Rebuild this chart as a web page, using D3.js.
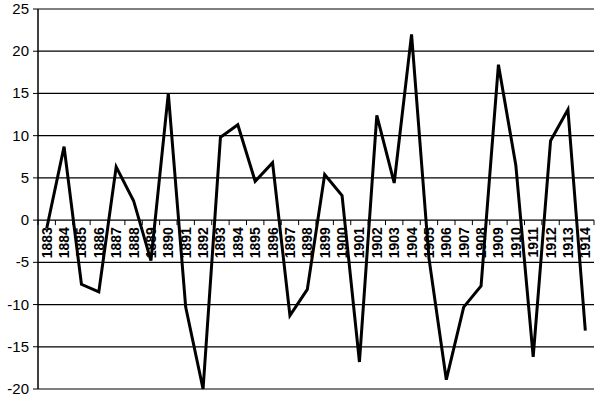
<!DOCTYPE html><html><head><script src="https://cdn.jsdelivr.net/npm/d3@7"></script>
<style>body{margin:0;background:#fff}</style></head><body><svg id="c" width="600" height="402"></svg>
<script>
const years=d3.range(1883,1915).map(String);
const values=[-1,8.7,-7.6,-8.5,6.3,2.3,-4.8,15,-10.3,-20,9.8,11.3,4.6,6.8,-11.3,-8.2,5.4,2.9,-16.8,12.4,4.4,22,-4.5,-18.9,-10.3,-7.8,18.4,6.5,-16.2,9.4,13.1,-13.1];
const yTicks=[-20,-15,-10,-5,0,5,10,15,20,25];
const svg=d3.select("#c");
const L=38,R=594,T=9,B=389;
const x=d3.scaleBand().domain(years).range([L,R]);
const y=d3.scaleLinear().domain([-20,25]).range([B,T]);
const f="Liberation Sans, Arial, sans-serif";
svg.append("g").selectAll("line").data(yTicks).join("line")
 .attr("x1",L).attr("x2",R).attr("y1",d=>y(d)).attr("y2",d=>y(d)).attr("stroke","#000").attr("stroke-width",1.2);
svg.append("line").attr("x1",L).attr("x2",L).attr("y1",T).attr("y2",B).attr("stroke","#000").attr("stroke-width",1.5);
svg.append("g").selectAll("line").data(yTicks).join("line")
 .attr("x1",L-5).attr("x2",L).attr("y1",d=>y(d)).attr("y2",d=>y(d)).attr("stroke","#000");
svg.append("g").selectAll("text").data(yTicks).join("text")
 .attr("x",L-9).attr("y",d=>y(d)+5).attr("text-anchor","end").attr("font-family",f).attr("font-size",15).text(d=>d);
const y0=y(0);
svg.append("g").selectAll("line").data(years.concat(["end"])).join("line")
 .attr("x1",(d,i)=>L+i*x.step()).attr("x2",(d,i)=>L+i*x.step()).attr("y1",y0).attr("y2",y0+5).attr("stroke","#000");
svg.append("g").selectAll("text").data(years).join("text")
 .attr("transform",d=>`translate(${x(d)+x.bandwidth()/2+5},${y0+7}) rotate(-90)`)
 .attr("text-anchor","end").attr("font-family",f).attr("font-size",14).attr("font-weight","bold").text(d=>d);
svg.append("path").datum(values).attr("fill","none").attr("stroke","#000").attr("stroke-width",3).attr("stroke-linejoin","miter")
 .attr("d",d3.line().x((d,i)=>x(years[i])+x.bandwidth()/2).y(d=>y(d)));
</script></body></html>
